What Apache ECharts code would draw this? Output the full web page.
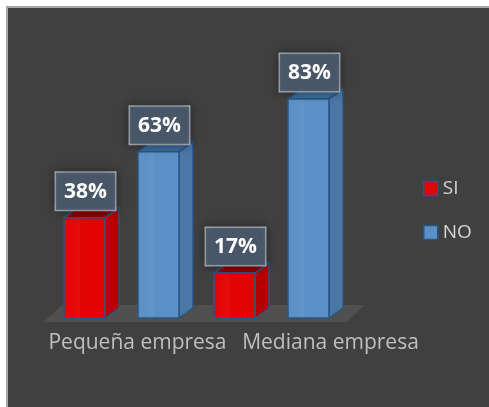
<!DOCTYPE html>
<html>
<head>
<meta charset="utf-8">
<script src="https://cdn.jsdelivr.net/npm/echarts@6/dist/echarts.min.js"></script>
<style>
  html, body { margin: 0; padding: 0; background: #ffffff; overflow: hidden; }
  #wrap { position: relative; width: 489px; height: 407px; background: #ffffff; }
  #panel {
    position: absolute; left: 6px; top: 6px; right: 0; bottom: 0;
    background: #404040;
    border-left: 2px solid #a8a8a8; border-top: 2px solid #a8a8a8;
  }
  #chart { position: absolute; left: 0; top: 0; width: 489px; height: 407px; }
</style>
</head>
<body>
<div id="wrap">
  <div id="panel"></div>
  <div id="chart"></div>
</div>
<script>
// Share of companies by size that answered SI / NO (percent)
const categories = ['Pequeña empresa', 'Mediana empresa'];
const seriesNames = ['SI', 'NO'];
const siValues = [38, 17];
const noValues = [63, 83];

// Face colours for the 3D columns: [front, side, top]
const palette = {
  SI: ['#e20303', '#b40000', '#8c0000'],
  NO: ['#5b90c6', '#4a77a6', '#3d6c9c']
};
const edgeColor = '#2a5580';

const chart = echarts.init(document.getElementById('chart'));

// Horizontal shift of each category label under the floor
const labelShift = [16, 59];

function barRenderer(seriesIdx, colors) {
  return function (params, api) {
    const cat = api.value(0);
    const val = api.value(1);
    const base = api.coord([cat, 0]);
    const top = api.coord([cat, val]);
    const band = api.size([1, 0])[0];
    const w = band * 0.2733;
    const gap = band * 0.22;
    const x0 = base[0] - (2 * w + gap) / 2 + seriesIdx * (w + gap);
    const x1 = x0 + w;
    const yB = base[1];
    const yT = top[1];
    const dx = 14, dy = 10;
    const edge = { stroke: edgeColor, lineWidth: 1.5, lineJoin: 'round' };
    return {
      type: 'group',
      children: [
        {
          type: 'polygon',
          shape: { points: [[x1, yT], [x1 + dx, yT - dy], [x1 + dx, yB - dy], [x1, yB]] },
          style: Object.assign({ fill: colors[1] }, edge)
        },
        {
          type: 'polygon',
          shape: { points: [[x0, yT], [x0 + dx, yT - dy], [x1 + dx, yT - dy], [x1, yT]] },
          style: Object.assign({ fill: colors[2] }, edge)
        },
        {
          type: 'rect',
          shape: { x: x0, y: yT, width: w, height: yB - yT },
          style: Object.assign({
            fill: new echarts.graphic.LinearGradient(0, 0, 1, 0, [
              { offset: 0, color: colors[0] },
              { offset: 0.38, color: echarts.color.lift(colors[0], 0.04) },
              { offset: 0.42, color: colors[0] },
              { offset: 1, color: colors[0] }
            ])
          }, edge)
        },
        {
          type: 'text',
          x: (x0 + x1) / 2 + 1,
          y: yT - 8,
          z2: 10,
          style: {
            text: val + '%',
            align: 'center',
            verticalAlign: 'bottom',
            font: 'bold 21px "Open Sans"',
            lineHeight: 22,
            fill: '#ffffff',
            backgroundColor: 'rgba(74,89,108,0.95)',
            borderColor: '#a9b0b8',
            borderWidth: 1.5,
            padding: [8, 8, 7, 8],
            shadowBlur: 10,
            shadowColor: 'rgba(0,0,0,0.35)'
          }
        }
      ]
    };
  };
}

function floorRenderer(params, api) {
  const cs = params.coordSys;
  const yF = cs.y + cs.height + 4;
  const yBk = cs.y + cs.height - 13;
  return {
    type: 'polygon',
    shape: {
      points: [
        [cs.x - 3, yF],
        [cs.x + cs.width, yF],
        [cs.x + cs.width + 18, yBk],
        [cs.x + 16, yBk]
      ]
    },
    style: { fill: '#505050' }
  };
}

const labelFont = { color: '#bfbfbf', fontSize: 21, fontFamily: 'Open Sans' };

const option = {
  backgroundColor: 'transparent',
  animation: false,
  grid: { left: 46.5, width: 300, top: 54, bottom: 89 },
  xAxis: {
    type: 'category',
    data: categories,
    axisLine: { show: false },
    axisTick: { show: false },
    splitLine: { show: false },
    axisLabel: Object.assign({
      margin: 15,
      interval: 0,
      formatter: function (v, i) { return '{c' + i + '|' + v + '}'; },
      rich: {
        c0: Object.assign({ padding: [0, 0, 0, labelShift[0] * 2] }, labelFont),
        c1: Object.assign({ padding: [0, 0, 0, labelShift[1] * 2] }, labelFont)
      }
    }, labelFont)
  },
  yAxis: {
    type: 'value',
    min: 0,
    max: 100,
    show: false,
    splitLine: { show: false }
  },
  legend: {
    orient: 'vertical',
    left: 418,
    top: 174,
    itemWidth: 14,
    itemHeight: 14,
    itemGap: 25,
    icon: 'rect',
    textStyle: { color: '#d4d4d4', fontSize: 19, fontFamily: 'Open Sans' },
    data: [
      { name: seriesNames[0], itemStyle: { color: palette.SI[0], borderColor: edgeColor, borderWidth: 1.5 } },
      { name: seriesNames[1], itemStyle: { color: palette.NO[0], borderColor: edgeColor, borderWidth: 1.5 } }
    ]
  },
  series: [
    {
      type: 'custom',
      name: 'floor',
      silent: true,
      z: 1,
      renderItem: floorRenderer,
      data: [[0, 0]]
    },
    {
      type: 'custom',
      name: seriesNames[0],
      z: 3,
      itemStyle: { color: palette.SI[0] },
      renderItem: barRenderer(0, palette.SI),
      data: siValues.map((v, i) => [i, v])
    },
    {
      type: 'custom',
      name: seriesNames[1],
      z: 3,
      itemStyle: { color: palette.NO[0] },
      renderItem: barRenderer(1, palette.NO),
      data: noValues.map((v, i) => [i, v])
    }
  ]
};

chart.setOption(option);
</script>
</body>
</html>
